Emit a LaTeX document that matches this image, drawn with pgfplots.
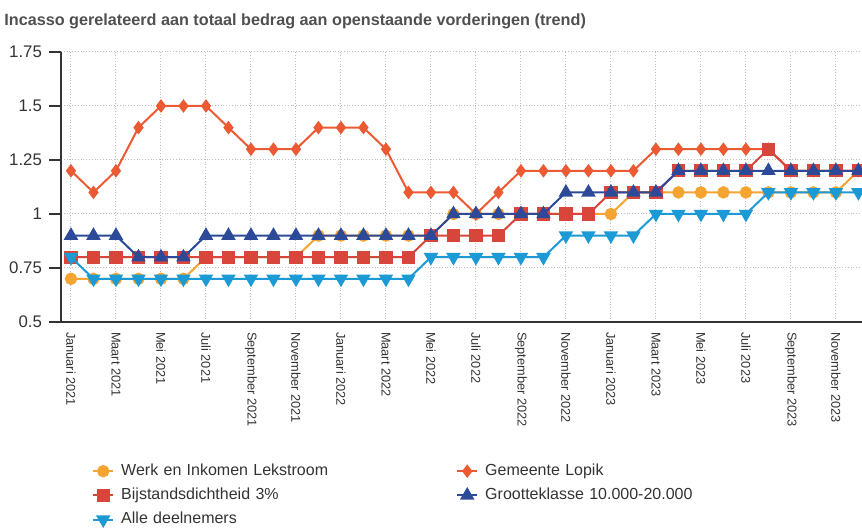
\documentclass[border=0pt]{standalone}
\usepackage{pgfplots}
\pgfplotsset{compat=1.18}
\usepackage{fontspec}
\setmainfont{Liberation Sans}

\definecolor{werk}{HTML}{F5A431}
\definecolor{lopik}{HTML}{EC5A34}
\definecolor{bijstand}{HTML}{D8453B}
\definecolor{grootte}{HTML}{2D4A99}
\definecolor{alle}{HTML}{1C9AD6}
\definecolor{titlegray}{HTML}{505050}
\definecolor{axisgray}{HTML}{333333}

% months: 0 = Januari 2021 ... 35 = December 2023
\pgfplotstableread{
m werk lopik bijstand grootte alle
0  0.7 1.2 0.8 0.9 0.8
1  0.7 1.1 0.8 0.9 0.7
2  0.7 1.2 0.8 0.9 0.7
3  0.7 1.4 0.8 0.8 0.7
4  0.7 1.5 0.8 0.8 0.7
5  0.7 1.5 0.8 0.8 0.7
6  0.8 1.5 0.8 0.9 0.7
7  0.8 1.4 0.8 0.9 0.7
8  0.8 1.3 0.8 0.9 0.7
9  0.8 1.3 0.8 0.9 0.7
10 0.8 1.3 0.8 0.9 0.7
11 0.9 1.4 0.8 0.9 0.7
12 0.9 1.4 0.8 0.9 0.7
13 0.9 1.4 0.8 0.9 0.7
14 0.9 1.3 0.8 0.9 0.7
15 0.9 1.1 0.8 0.9 0.7
16 0.9 1.1 0.9 0.9 0.8
17 1.0 1.1 0.9 1.0 0.8
18 1.0 1.0 0.9 1.0 0.8
19 1.0 1.1 0.9 1.0 0.8
20 1.0 1.2 1.0 1.0 0.8
21 1.0 1.2 1.0 1.0 0.8
22 1.0 1.2 1.0 1.1 0.9
23 1.0 1.2 1.0 1.1 0.9
24 1.0 1.2 1.1 1.1 0.9
25 1.1 1.2 1.1 1.1 0.9
26 1.1 1.3 1.1 1.1 1.0
27 1.1 1.3 1.2 1.2 1.0
28 1.1 1.3 1.2 1.2 1.0
29 1.1 1.3 1.2 1.2 1.0
30 1.1 1.3 1.2 1.2 1.0
31 1.1 1.3 1.3 1.2 1.1
32 1.1 1.2 1.2 1.2 1.1
33 1.1 1.2 1.2 1.2 1.1
34 1.1 1.2 1.2 1.2 1.1
35 1.2 1.2 1.2 1.2 1.1
}\trend

\begin{document}
\begin{tikzpicture}
\path[use as bounding box] (-30.5pt,-103.5pt) rectangle (400.5pt,161pt);
\node[anchor=west, text=titlegray, inner sep=0pt,
      font=\fontsize{8.1}{9.6}\selectfont\bfseries] at (-28.5pt,150.5pt)
  {Incasso gerelateerd aan totaal bedrag aan openstaande vorderingen (trend)};
\begin{axis}[
  scale only axis, width=400.5pt, height=135pt,
  xmin=-0.444, xmax=35.16, ymin=0.5, ymax=1.75,
  axis x line*=bottom, axis y line*=left,
  axis line style={axisgray, line width=1pt},
  xtick={0,2,...,34},
  xticklabels={Januari 2021, Maart 2021, Mei 2021, Juli 2021, September 2021, November 2021,
    Januari 2022, Maart 2022, Mei 2022, Juli 2022, September 2022, November 2022,
    Januari 2023, Maart 2023, Mei 2023, Juli 2023, September 2023, November 2023},
  ytick={0.5,0.75,1,1.25,1.5,1.75},
  yticklabels={0.5,0.75,1,1.25,1.5,1.75},
  tick align=outside, major tick length=6pt,
  xtick style={draw=none},
  ytick style={axisgray, line width=0.8pt},
  x tick label style={yshift=4.5pt, rotate=-90, anchor=west, text=axisgray, font=\fontsize{6.4}{8}\selectfont},
  y tick label style={text=axisgray, font=\fontsize{8.4}{10}\selectfont},
  grid=major, major grid style={densely dotted, black!25, line width=0.5pt},
  clip marker paths=true,
  every axis plot/.append style={line width=1pt},
  legend columns=2, legend cell align=left,
  legend image code/.code={\draw[mark repeat=2,mark phase=2] plot coordinates {(0pt,0pt)(5pt,0pt)(10pt,0pt)};},
  legend style={at={(0.031,-0.497)}, anchor=north west, draw=none, fill=none,
    font=\fontsize{8}{9.6}\selectfont, text=axisgray,
    nodes={inner sep=1.5pt, text width=166pt, align=left, text height=6pt, text depth=1.6pt},
    row sep=1.5pt, /tikz/every odd column/.style={column sep=2pt}},
]
\addplot[werk, mark=*, mark size=2.6pt] table[x=m, y=werk] {\trend};
\addlegendentry{Werk en Inkomen Lekstroom}
\addplot[lopik, mark=diamond*, mark size=2.6pt] table[x=m, y=lopik] {\trend};
\addlegendentry{Gemeente Lopik}
\addplot[bijstand, mark=square*, mark size=2.8pt] table[x=m, y=bijstand] {\trend};
\addlegendentry{Bijstandsdichtheid 3\%}
\addplot[grootte, mark=triangle*, mark size=3.2pt] table[x=m, y=grootte] {\trend};
\addlegendentry{Grootteklasse 10.000-20.000}
\addplot[alle, mark=triangle*, mark size=3.2pt, mark options={rotate=180}] table[x=m, y=alle] {\trend};
\addlegendentry{Alle deelnemers}
\end{axis}
\end{tikzpicture}
\end{document}
